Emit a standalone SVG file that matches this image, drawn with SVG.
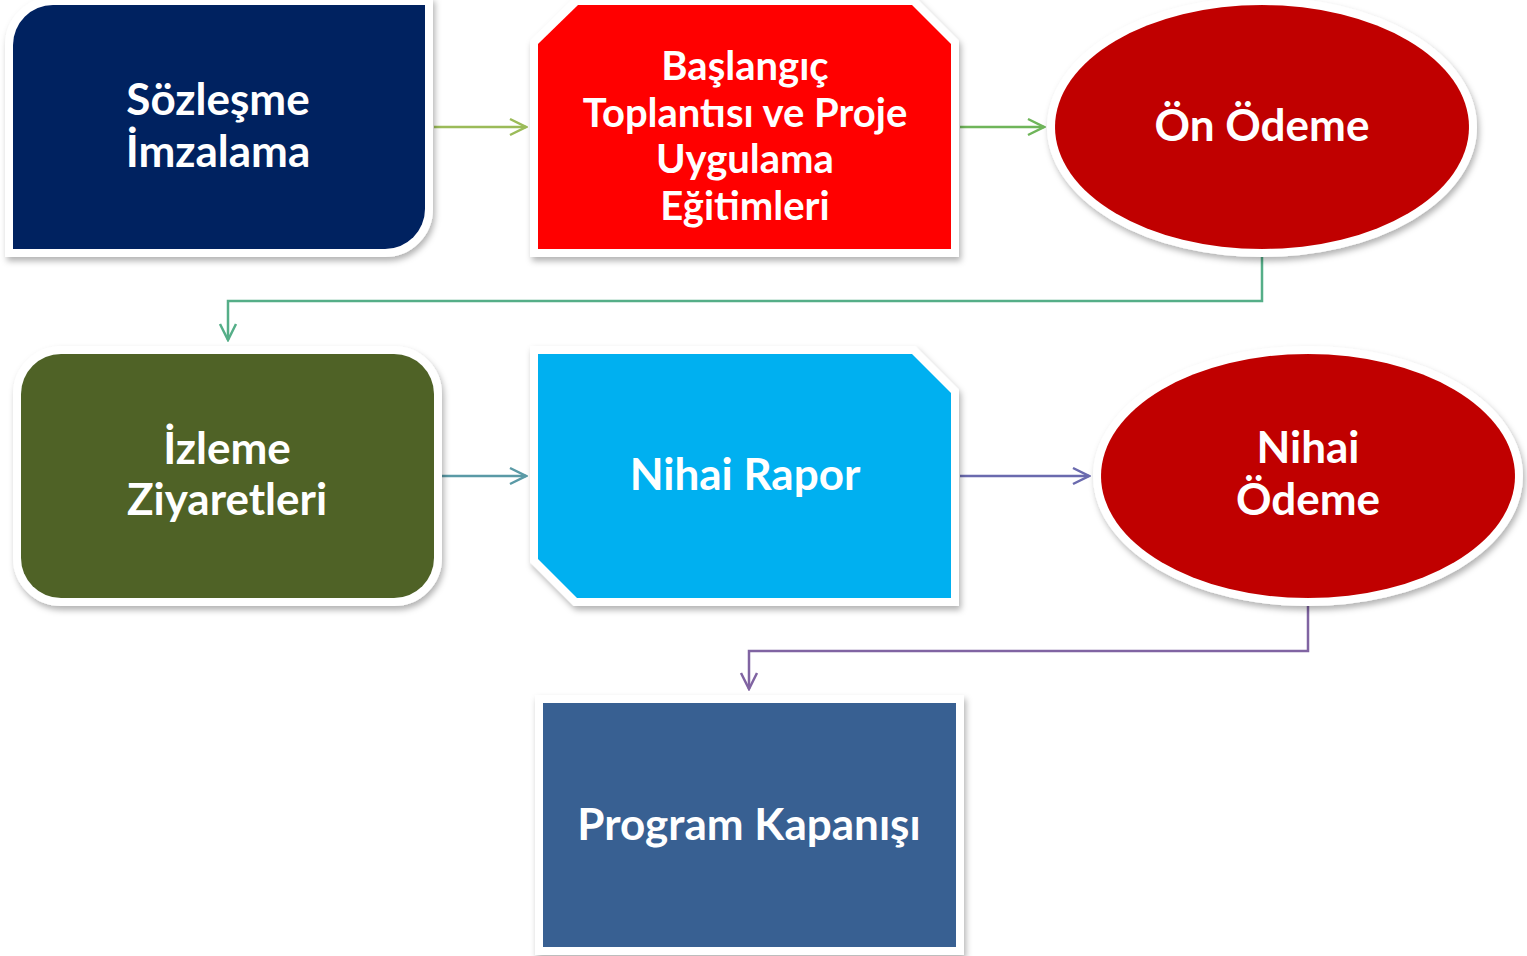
<svg xmlns="http://www.w3.org/2000/svg" width="1527" height="956" viewBox="0 0 1527 956">
<defs>
<filter id="sh" x="-10%" y="-10%" width="120%" height="125%">
<feDropShadow dx="2" dy="4" stdDeviation="3" flood-color="#000" flood-opacity="0.3"/>
</filter>
<marker id="a1" viewBox="0 0 20 20" refX="18" refY="10" markerWidth="20" markerHeight="20" markerUnits="userSpaceOnUse" orient="auto"><path d="M2,2 L18,10 L2,18" fill="none" stroke="#9BBB59" stroke-width="2.5"/></marker>
<marker id="a2" viewBox="0 0 20 20" refX="18" refY="10" markerWidth="20" markerHeight="20" markerUnits="userSpaceOnUse" orient="auto"><path d="M2,2 L18,10 L2,18" fill="none" stroke="#6FB55A" stroke-width="2.5"/></marker>
<marker id="a3" viewBox="0 0 20 20" refX="18" refY="10" markerWidth="20" markerHeight="20" markerUnits="userSpaceOnUse" orient="auto"><path d="M2,2 L18,10 L2,18" fill="none" stroke="#55AE88" stroke-width="2.5"/></marker>
<marker id="a4" viewBox="0 0 20 20" refX="18" refY="10" markerWidth="20" markerHeight="20" markerUnits="userSpaceOnUse" orient="auto"><path d="M2,2 L18,10 L2,18" fill="none" stroke="#5A9AA6" stroke-width="2.5"/></marker>
<marker id="a5" viewBox="0 0 20 20" refX="18" refY="10" markerWidth="20" markerHeight="20" markerUnits="userSpaceOnUse" orient="auto"><path d="M2,2 L18,10 L2,18" fill="none" stroke="#6A6AAE" stroke-width="2.5"/></marker>
<marker id="a6" viewBox="0 0 20 20" refX="18" refY="10" markerWidth="20" markerHeight="20" markerUnits="userSpaceOnUse" orient="auto"><path d="M2,2 L18,10 L2,18" fill="none" stroke="#8064A2" stroke-width="2.5"/></marker>
</defs>
<style>
.n{stroke:#fff;stroke-width:16;paint-order:stroke;filter:url(#sh);stroke-linejoin:miter}
.t{font-family:"Lato","Open Sans",sans-serif;font-weight:bold;fill:#fff;text-anchor:middle;font-size:44px}
.s{font-size:40px}
.c{fill:none;stroke-width:2.5}
</style>
<rect width="1527" height="956" fill="#fff"/>
<g id="connectors">
<path class="c" d="M434,127 H526" stroke="#9BBB59" marker-end="url(#a1)"/>
<path class="c" d="M960,127 H1044" stroke="#6FB55A" marker-end="url(#a2)"/>
<path class="c" d="M1262,257 V301 H228 V340" stroke="#55AE88" marker-end="url(#a3)"/>
<path class="c" d="M442,476 H526" stroke="#5A9AA6" marker-end="url(#a4)"/>
<path class="c" d="M960,476 H1089" stroke="#6A6AAE" marker-end="url(#a5)"/>
<path class="c" d="M1308,606 V651 H749 V689" stroke="#8064A2" marker-end="url(#a6)"/>
</g>
<g id="n1">
<path class="n" fill="#002060" d="M53,5 H425 V209 A40,40 0 0 1 385,249 H13 V45 A40,40 0 0 1 53,5 Z"/>
<text class="t" x="218" y="115">Sözleşme</text>
<text class="t" x="218" y="167">İmzalama</text>
</g>
<g id="n2">
<path class="n" fill="#FF0000" d="M578,5 H912 L951,44 V249 H538 V44 Z"/>
<text class="t s" x="745" y="80">Başlangıç</text>
<text class="t s" x="745" y="127">Toplantısı ve Proje</text>
<text class="t s" x="745" y="173">Uygulama</text>
<text class="t s" x="745" y="220">Eğitimleri</text>
</g>
<g id="n3">
<ellipse class="n" fill="#C00000" cx="1262" cy="127" rx="207" ry="122"/>
<text class="t" x="1262" y="141">Ön Ödeme</text>
</g>
<g id="n4">
<rect class="n" fill="#4F6228" x="21" y="354" width="413" height="244" rx="40"/>
<text class="t" x="227" y="464">İzleme</text>
<text class="t" x="227" y="515">Ziyaretleri</text>
</g>
<g id="n5">
<path class="n" fill="#00B0F0" d="M538,354 H912 L951,393 V598 H577 L538,559 Z"/>
<text class="t" x="745" y="490">Nihai Rapor</text>
</g>
<g id="n6">
<ellipse class="n" fill="#C00000" cx="1308" cy="476" rx="207" ry="122"/>
<text class="t" x="1308" y="463">Nihai</text>
<text class="t" x="1308" y="515">Ödeme</text>
</g>
<g id="n7">
<rect class="n" fill="#376092" x="543" y="703" width="413" height="244"/>
<text class="t" x="749" y="840">Program Kapanışı</text>
</g>
</svg>
